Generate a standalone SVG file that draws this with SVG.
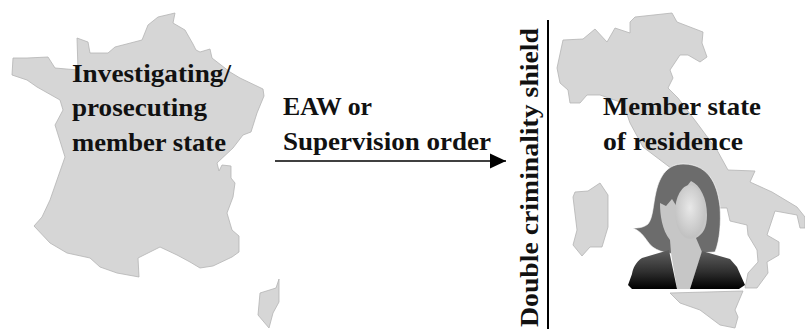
<svg xmlns="http://www.w3.org/2000/svg" width="805" height="329" viewBox="0 0 805 329">
<style>
.map{fill:#d6d6d6;stroke:#b4b4b4;stroke-width:.8;stroke-linejoin:round}
text{font-family:"Liberation Serif",serif;font-weight:700;font-size:25px;fill:#111}
</style>
<defs>
<linearGradient id="jacket" x1="0" y1="0" x2="0" y2="1"><stop offset="0" stop-color="#606060"/><stop offset=".55" stop-color="#303030"/><stop offset="1" stop-color="#000"/></linearGradient>
<radialGradient id="face" cx=".5" cy=".42" r=".55"><stop offset="0" stop-color="#e8e8e8"/><stop offset="1" stop-color="#c2c2c2"/></radialGradient>
<marker id="arrow" markerUnits="userSpaceOnUse" markerWidth="18" markerHeight="18" refX="16" refY="8" orient="auto"><path d="M0 0.5L16 8L0 15.5Z" fill="#000"/></marker>
</defs>
<g id="france">
<path class="map" d="M175 13L173 23L185 30L193 44L196 50L200 52L210 49L212 58L230 72L240 78L263 89L264 96L257 113L251 132L243 135L233 148L217 163L219 171L222 165L231 166L231 178L235 183L233 197L227 213L232 230L239 236L239 252L232 257L213 266L200 268L190 262L177 255L160 247L138 258L139 277L117 273L100 267L90 258L67 253L50 243L34 226L42 217L50 200L58 177L65 157L55 125L63 110L60 100L37 87L27 80L12 75L13 58L27 58L48 57L55 68L78 70L77 38L88 42L90 53L108 53L115 47L142 40L148 25L158 17Z"/>
<path class="map" d="M279 279L276 288L260 293L258 315L269 328L273 313L279 302Z"/>
<text x="72" y="82" textLength="159" lengthAdjust="spacingAndGlyphs">Investigating/</text>
<text x="72" y="116" textLength="135" lengthAdjust="spacingAndGlyphs">prosecuting</text>
<text x="72" y="151" textLength="154" lengthAdjust="spacingAndGlyphs">member state</text>
</g>
<g id="italy">
<path class="map" d="M672 13L677 22L703 32L702 43L707 57L700 62L688 55L680 55L670 70L673 78L668 88L678 98L697 123L717 150L728 170L755 171L750 182L772 192L797 207L805 217L805 228L800 228L797 215L775 211L767 235L779 242L779 255L767 262L768 273L757 288L745 288L748 273L758 262L757 250L748 235L747 225L730 221L727 208L720 208L700 200L680 175L643 147L630 123L623 103L600 95L587 95L580 103L570 103L568 90L560 83L557 68L563 40L583 39L595 29L607 42L615 28L630 33L630 22L635 17Z"/>
<path class="map" d="M600 183L608 195L608 227L602 247L590 247L582 256L573 245L577 230L573 197L575 192L588 191Z"/>
<path class="map" d="M670 293L743 291L735 310L738 317L735 328L720 325L700 310L680 303Z"/>
<text x="603" y="115" textLength="158" lengthAdjust="spacingAndGlyphs">Member state</text>
<text x="603" y="150" textLength="140" lengthAdjust="spacingAndGlyphs">of residence</text>
</g>
<g id="person">
<path d="M683 164C668 164 660 175 656 192C653 205 653 218 648 224C643 228 638 228 633 228C640 231 643 235 648 242C653 250 665 254 680 254L715 252C720 240 721 222 720 207C718 190 712 164 683 164Z" fill="#6c6c6c" stroke="#fff" stroke-width=".6"/>
<path d="M691 181C685 188 680 198 677 207L672 199L666 206L660 203C660 215 662 230 670 240L671 253L677 289L690 289L702 252L696 238C703 234 707 228 707 215C707 198 700 185 691 181Z" fill="#c6c6c6"/>
<ellipse cx="690" cy="212" rx="15" ry="27" fill="url(#face)"/>
<path d="M669 250L642 258C636 262 633 268 632 274L628 285L632 289L677 289ZM702 251L690 289L739 289L745 285L737 267L730 259Z" fill="url(#jacket)"/>
</g>
<g id="connectors">
<line x1="275" y1="161" x2="506" y2="161" stroke="#000" stroke-width="1.5" marker-end="url(#arrow)"/>
<line x1="548" y1="20" x2="548" y2="329" stroke="#000" stroke-width="2"/>
</g>
<g id="labels">
<text x="283" y="115" textLength="89" lengthAdjust="spacingAndGlyphs">EAW or</text>
<text x="283" y="150" textLength="208" lengthAdjust="spacingAndGlyphs">Supervision order</text>
<text transform="translate(538 327) rotate(-90)" textLength="299" lengthAdjust="spacingAndGlyphs">Double criminality shield</text>
</g>
</svg>
